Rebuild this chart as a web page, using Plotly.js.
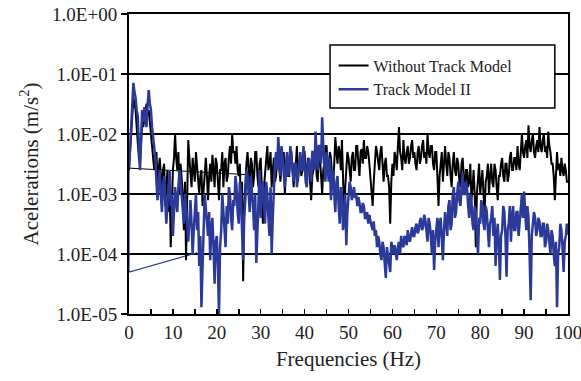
<!DOCTYPE html>
<html>
<head>
<meta charset="utf-8">
<script src="https://cdn.plot.ly/plotly-3.0.1.min.js"></script>
<style>html,body{margin:0;padding:0;background:#fff;}#chart{width:581px;height:381px;}</style>
</head>
<body>
<div id="chart"></div>
<script>
// Frequency step of the spectra (Hz)
const freqStep = 0.25;

// Without Track Model (m/s^2), one value every 0.25 Hz from 0 to 100 Hz
const withoutTrack = [
2.5e-3,5.0e-3,1.0e-2,2.0e-2,4.0e-2,3.2e-2,2.5e-2,1.3e-2,
6.3e-3,4.0e-3,3.2e-3,7.9e-3,1.6e-2,1.3e-2,2.0e-2,2.5e-2,
3.2e-2,2.0e-2,2.5e-2,1.6e-2,1.0e-2,6.3e-3,5.0e-3,2.5e-3,
3.2e-3,5.0e-3,1.6e-3,2.5e-3,4.0e-3,2.0e-3,1.3e-3,2.5e-3,
3.2e-3,6.3e-4,1.6e-3,2.5e-3,5.0e-4,1.6e-3,1.3e-4,6.3e-4,
2.5e-3,4.0e-3,1.0e-2,4.0e-3,2.5e-3,5.0e-3,1.0e-3,3.2e-3,
2.0e-3,1.0e-3,2.5e-4,1.6e-3,7.9e-5,1.0e-3,7.9e-3,4.0e-3,
2.5e-3,1.3e-3,4.0e-3,2.0e-3,1.6e-3,5.0e-3,3.2e-3,1.6e-3,
1.0e-3,2.0e-3,2.5e-3,6.3e-4,1.3e-3,2.5e-3,4.0e-3,2.0e-3,
7.9e-4,2.0e-3,3.2e-3,1.6e-3,4.5e-3,2.5e-3,1.3e-3,4.0e-3,
3.2e-3,1.6e-3,7.9e-4,2.5e-3,2.5e-3,5.0e-3,1.3e-3,3.2e-3,
4.0e-3,1.6e-3,2.0e-3,4.0e-3,6.3e-3,3.2e-3,1.0e-2,5.0e-3,
5.0e-3,3.2e-3,6.3e-3,2.5e-3,2.0e-3,3.2e-3,5.0e-4,1.6e-3,
3.5e-5,6.3e-4,1.6e-3,3.2e-3,5.0e-3,2.0e-3,1.3e-3,4.0e-3,
3.2e-3,1.3e-3,2.0e-3,5.0e-3,5.0e-3,2.0e-3,1.3e-3,3.2e-3,
4.0e-3,1.3e-3,3.2e-4,1.3e-3,2.5e-3,4.0e-3,6.3e-3,2.5e-3,
3.2e-3,5.0e-3,1.3e-3,2.5e-3,4.0e-3,1.6e-3,2.0e-3,4.0e-3,
5.0e-3,2.5e-3,1.6e-3,3.2e-3,3.2e-3,5.0e-3,1.0e-3,2.5e-3,
4.0e-3,2.0e-3,2.0e-3,5.0e-3,5.0e-3,2.5e-3,1.3e-3,3.2e-3,
3.2e-3,6.3e-3,1.6e-3,3.2e-3,4.0e-3,2.0e-3,2.5e-3,5.0e-3,
5.0e-3,2.5e-3,1.6e-3,4.0e-3,3.2e-3,1.6e-3,7.9e-4,2.0e-3,
2.5e-3,4.0e-3,5.0e-3,2.0e-3,1.6e-3,5.0e-3,4.0e-3,2.0e-3,
1.0e-3,2.5e-3,3.2e-3,6.3e-3,6.3e-3,3.2e-3,2.0e-3,5.0e-3,
4.0e-3,2.0e-3,1.3e-3,3.2e-3,8.9e-3,5.0e-3,3.2e-3,6.3e-3,
5.0e-3,2.5e-3,7.9e-3,2.0e-3,3.2e-4,1.3e-3,2.5e-3,5.0e-3,
4.0e-3,2.5e-3,1.6e-3,4.0e-3,5.0e-3,2.5e-3,2.5e-3,6.3e-3,
6.3e-3,3.2e-3,2.0e-3,5.0e-3,5.6e-3,3.2e-3,7.9e-3,4.0e-3,
4.0e-3,6.3e-3,5.0e-3,3.2e-3,2.0e-3,1.3e-3,6.3e-4,1.6e-3,
3.2e-3,6.3e-3,5.0e-3,3.2e-3,2.5e-3,5.0e-3,6.3e-3,3.2e-3,
1.6e-3,3.2e-3,4.0e-3,2.0e-3,2.0e-3,1.3e-3,3.2e-4,1.6e-3,
3.2e-3,2.0e-3,5.0e-3,4.0e-3,2.5e-3,6.3e-3,1.3e-2,5.0e-3,
4.0e-3,2.5e-3,7.9e-3,4.0e-3,3.2e-3,5.0e-3,6.3e-3,3.2e-3,
4.0e-3,6.3e-3,7.9e-3,4.0e-3,5.0e-3,3.2e-3,2.5e-3,5.0e-3,
6.3e-3,3.2e-3,4.0e-3,6.3e-3,7.9e-3,4.0e-3,5.0e-3,3.2e-3,
1.0e-2,5.0e-3,4.0e-3,6.3e-3,6.3e-3,3.2e-3,2.5e-3,5.0e-3,
5.0e-3,2.0e-3,6.3e-4,2.0e-3,3.2e-3,5.0e-3,1.6e-3,3.2e-3,
6.3e-3,3.2e-3,2.0e-3,5.0e-3,4.0e-3,2.0e-3,1.3e-3,3.2e-3,
5.0e-3,2.5e-3,2.0e-3,4.0e-3,3.2e-3,1.6e-3,1.3e-3,3.2e-3,
4.0e-3,2.0e-3,1.0e-3,2.5e-3,2.5e-3,1.3e-3,1.6e-3,3.2e-3,
7.9e-4,1.3e-3,2.5e-3,1.0e-3,1.3e-4,1.0e-3,2.0e-3,3.2e-3,
1.0e-3,1.6e-3,2.5e-3,1.0e-3,5.0e-4,1.6e-3,2.0e-3,3.2e-3,
1.0e-3,2.0e-3,3.2e-3,1.6e-3,1.3e-3,3.2e-3,2.5e-3,1.3e-3,
7.9e-4,2.0e-3,2.0e-3,3.2e-3,4.0e-3,2.0e-3,1.6e-3,3.2e-3,
3.2e-3,1.6e-3,2.0e-3,4.0e-3,5.0e-3,2.5e-3,2.5e-3,4.0e-3,
4.0e-3,2.5e-3,6.3e-3,3.2e-3,2.5e-3,5.0e-3,1.0e-2,5.0e-3,
4.0e-3,6.3e-3,7.9e-3,4.0e-3,1.4e-2,6.3e-3,5.0e-3,7.9e-3,
1.0e-2,5.0e-3,4.0e-3,6.3e-3,7.9e-3,5.0e-3,1.3e-2,6.3e-3,
5.0e-3,7.9e-3,1.0e-2,5.0e-3,6.3e-3,4.0e-3,1.1e-2,6.3e-3,
5.0e-3,3.2e-3,3.2e-3,2.0e-3,7.9e-4,2.0e-3,5.0e-3,2.5e-3,
3.2e-3,2.0e-3,4.0e-3,2.5e-3,2.0e-3,3.2e-3,2.5e-3,1.6e-3,
1.6e-3
];

// Track Model II (m/s^2), one value every 0.25 Hz from 0 to 100 Hz
const trackModelII = [
2.7e-3,6.3e-3,1.3e-2,3.2e-2,7.1e-2,5.0e-2,4.0e-2,2.5e-2,
2.0e-2,6.3e-3,2.5e-3,7.9e-3,2.5e-2,1.6e-2,2.8e-2,2.0e-2,
1.3e-2,3.2e-2,5.4e-2,3.2e-2,2.5e-2,1.3e-2,7.9e-3,5.0e-3,
4.0e-3,1.6e-3,7.9e-4,1.6e-3,2.5e-3,1.0e-3,5.0e-4,1.3e-3,
2.0e-3,7.9e-4,3.2e-4,6.3e-4,1.3e-3,2.5e-3,6.3e-4,1.0e-3,
2.0e-4,5.0e-4,1.3e-3,7.9e-4,5.0e-4,1.3e-3,2.5e-3,1.6e-3,
1.0e-3,5.0e-4,3.2e-4,1.0e-3,6.3e-4,3.2e-4,1.6e-4,4.0e-4,
7.9e-4,3.2e-4,1.0e-4,2.5e-4,5.0e-4,1.0e-3,2.5e-4,5.0e-4,
6.3e-5,2.0e-4,1.3e-5,1.0e-4,2.5e-4,1.0e-3,6.3e-4,3.2e-4,
2.0e-4,5.0e-4,7.9e-5,2.5e-4,4.0e-4,1.3e-4,3.2e-5,1.6e-4,
2.0e-4,6.3e-5,1.0e-5,1.3e-4,2.5e-4,1.0e-3,5.0e-4,2.0e-4,
1.3e-4,6.3e-4,3.2e-4,1.3e-3,1.0e-3,4.0e-4,2.5e-4,7.9e-4,
6.3e-4,2.0e-3,1.3e-3,5.0e-4,3.2e-4,1.6e-3,1.0e-3,2.5e-4,
7.9e-5,4.0e-4,7.9e-4,2.5e-3,2.0e-3,1.0e-3,5.0e-4,2.0e-3,
1.3e-3,6.3e-4,2.5e-4,1.0e-3,7.1e-5,3.2e-4,1.0e-3,2.5e-3,
4.0e-4,1.3e-3,1.6e-3,5.0e-4,3.2e-4,1.6e-3,1.0e-3,4.0e-4,
2.0e-4,1.3e-3,1.0e-4,4.0e-4,1.3e-3,3.2e-3,5.0e-3,2.5e-3,
8.9e-3,4.0e-3,2.0e-3,6.3e-3,4.0e-3,2.0e-3,1.3e-3,3.2e-3,
5.0e-3,2.0e-3,2.5e-3,6.3e-3,4.0e-3,2.0e-3,1.6e-3,3.2e-3,
3.2e-3,1.3e-3,2.0e-3,4.0e-3,5.0e-3,2.5e-3,2.5e-3,6.3e-3,
3.2e-3,1.6e-3,1.3e-3,3.2e-3,4.0e-3,2.0e-3,1.6e-3,5.0e-3,
5.0e-3,2.5e-3,1.1e-2,4.0e-3,2.5e-3,6.3e-3,6.3e-3,3.2e-3,
1.9e-2,6.3e-3,3.2e-3,1.6e-3,5.0e-3,2.5e-3,1.6e-3,4.0e-3,
7.9e-4,2.0e-3,2.5e-3,1.0e-3,5.0e-4,1.6e-3,2.0e-3,6.3e-4,
3.2e-4,1.3e-3,1.0e-3,2.5e-4,4.0e-4,1.0e-3,1.4e-4,5.0e-4,
7.9e-4,1.6e-3,1.3e-3,7.9e-4,1.0e-3,1.3e-3,8.5e-4,1.0e-3,
6.3e-4,8.9e-4,7.1e-4,5.0e-4,5.0e-4,7.1e-4,6.3e-4,4.0e-4,
4.0e-4,5.0e-4,3.2e-4,4.5e-4,3.5e-4,2.8e-4,2.5e-4,3.5e-4,
2.0e-4,2.5e-4,1.3e-4,2.0e-4,1.6e-4,1.0e-4,7.9e-5,1.6e-4,
1.3e-4,7.1e-5,4.0e-5,1.3e-4,1.0e-4,7.1e-5,5.0e-5,1.6e-4,
1.3e-4,1.0e-4,1.4e-4,1.1e-4,7.9e-5,1.3e-4,1.6e-4,1.0e-4,
2.0e-4,1.4e-4,1.3e-4,2.0e-4,1.8e-4,1.4e-4,2.5e-4,1.8e-4,
1.6e-4,2.2e-4,2.8e-4,2.0e-4,2.0e-4,2.8e-4,3.2e-4,2.2e-4,
2.5e-4,3.5e-4,4.0e-4,2.5e-4,2.8e-4,4.5e-4,3.7e-4,2.5e-4,
1.6e-4,4.0e-4,3.2e-4,2.0e-4,1.0e-4,2.5e-4,5.4e-5,1.6e-4,
2.5e-4,4.0e-4,1.3e-4,3.2e-4,4.0e-4,2.0e-4,7.9e-5,2.5e-4,
5.0e-4,3.2e-4,2.0e-4,6.3e-4,7.9e-4,2.5e-4,3.2e-4,1.0e-3,
1.3e-3,4.0e-4,5.0e-4,1.0e-3,1.6e-3,7.9e-4,6.3e-4,1.3e-3,
2.2e-3,1.0e-3,1.0e-3,1.6e-3,1.3e-3,6.3e-4,4.0e-4,1.0e-3,
7.9e-4,3.2e-4,2.5e-4,6.3e-4,5.0e-4,2.0e-4,1.0e-4,4.0e-4,
3.2e-4,7.9e-4,5.9e-4,3.2e-4,2.5e-4,6.3e-4,5.0e-4,2.5e-4,
1.3e-4,3.2e-4,4.0e-4,6.3e-4,2.0e-4,4.0e-4,6.3e-5,2.0e-4,
3.2e-4,1.3e-4,3.7e-5,2.0e-4,2.5e-4,6.3e-4,5.0e-4,2.0e-4,
4.2e-5,2.5e-4,3.2e-4,6.3e-4,1.6e-4,4.0e-4,6.3e-4,2.5e-4,
2.5e-4,5.0e-4,5.0e-4,2.0e-4,3.2e-4,6.3e-4,1.0e-3,4.0e-4,
1.1e-3,5.0e-4,2.5e-4,6.3e-4,4.0e-4,1.0e-4,1.7e-5,2.0e-4,
3.2e-4,5.0e-4,4.0e-4,2.0e-4,2.5e-4,4.0e-4,3.5e-4,2.0e-4,
2.0e-4,3.2e-4,3.2e-4,1.3e-4,1.6e-4,3.2e-4,2.5e-4,1.3e-4,
1.0e-4,2.5e-4,2.0e-4,1.0e-4,6.3e-5,1.6e-4,1.3e-5,1.0e-4,
1.3e-4,3.2e-4,2.5e-4,1.3e-4,5.0e-5,1.6e-4,2.0e-4,3.2e-4,
2.1e-4
];

// Thin connector segments visible in the original plot
const withoutTrackLinkX = [0, 27];
const withoutTrackLinkY = [2.7e-3, 2.1e-3];
const trackModelIILinkX = [15.5, 0, 0];
const trackModelIILinkY = [1.05e-4, 5e-5, 2.7e-3];

// Axis ticks
const yTickVals = [1, 1e-1, 1e-2, 1e-3, 1e-4, 1e-5];
const yTickText = ['1.0E+00', '1.0E-01', '1.0E-02', '1.0E-03', '1.0E-04', '1.0E-05'];
const xTickVals = [0, 10, 20, 30, 40, 50, 60, 70, 80, 90, 100];

const freq = withoutTrack.map((_, i) => i * freqStep);

const BLACK = '#000000';
const BLUE = '#2B3A98';
const FONT = '"Liberation Serif"';

const traces = [
  {x: withoutTrackLinkX, y: withoutTrackLinkY, mode: 'lines', line: {color: BLACK, width: 1}, showlegend: false, hoverinfo: 'skip'},
  {x: trackModelIILinkX, y: trackModelIILinkY, mode: 'lines', line: {color: BLUE, width: 1.2}, showlegend: false, hoverinfo: 'skip'},
  {x: freq, y: withoutTrack, mode: 'lines', name: 'Without Track Model', line: {color: BLACK, width: 2}},
  {x: freq, y: trackModelII, mode: 'lines', name: 'Track Model II', line: {color: BLUE, width: 2.5}}
];

const layout = {
  width: 581, height: 381,
  margin: {l: 129, r: 13, t: 14, b: 67},
  paper_bgcolor: '#fff', plot_bgcolor: '#fff',
  font: {family: FONT, color: '#222', size: 19},
  showlegend: true,
  legend: {
    x: 0.466, y: 0.885, xanchor: 'left', yanchor: 'top',
    bgcolor: 'rgba(0,0,0,0)', borderwidth: 0,
    font: {family: FONT, size: 16, color: '#222'},
    tracegroupgap: 0
  },
  shapes: [{
    type: 'rect', xref: 'paper', yref: 'paper',
    x0: 0.458, x1: 0.970, y0: 0.687, y1: 0.897,
    fillcolor: '#fff', line: {color: BLACK, width: 1.5}, layer: 'above'
  }],
  xaxis: {
    range: [0, 100], tickvals: xTickVals, ticks: 'inside', ticklen: 5, tickwidth: 1.5, tickcolor: BLACK,
    minor: {dtick: 5, ticks: 'inside', ticklen: 5, tickwidth: 1.5, tickcolor: BLACK, showgrid: false},
    showline: true, linecolor: BLACK, linewidth: 2, mirror: true,
    showgrid: false, zeroline: false, ticklabeloverflow: 'allow',
    tickfont: {family: FONT, size: 19, color: '#222'},
    title: {text: 'Frequencies (Hz)', font: {family: FONT, size: 21, color: '#222'}, standoff: 10}
  },
  yaxis: {
    type: 'log', range: [-5, 0], tickvals: yTickVals, ticktext: yTickText,
    ticks: 'outside', ticklen: 6, tickwidth: 1.5, tickcolor: BLACK,
    showline: true, linecolor: BLACK, linewidth: 2, mirror: true,
    showgrid: true, gridcolor: BLACK, gridwidth: 1.5, zeroline: false,
    tickfont: {family: FONT, size: 19, color: '#222'},
    title: {text: 'Acelerations (m/s<sup>2</sup>)', font: {family: FONT, size: 21, color: '#222'}, standoff: 8}
  }
};

Plotly.newPlot('chart', traces, layout, {displayModeBar: false, staticPlot: true});
</script>
</body>
</html>
